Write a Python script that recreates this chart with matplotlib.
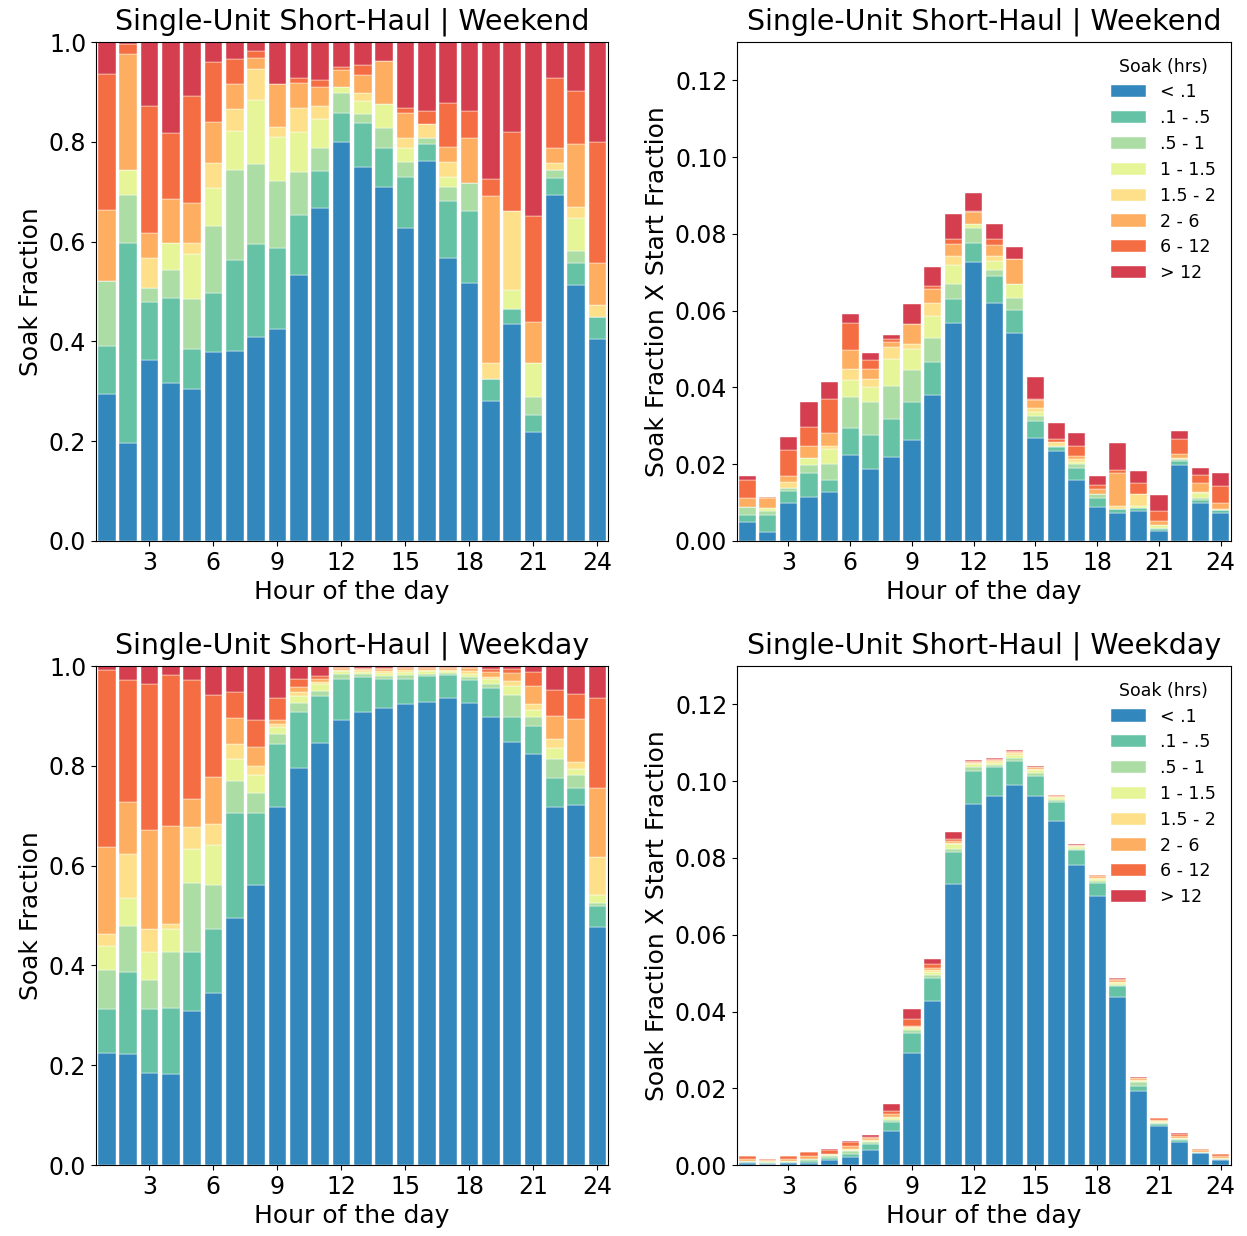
import matplotlib.pyplot as plt
import numpy as np

# Soak duration categories (bottom to top of each stack)
soak_labels = ['< .1', '.1 - .5', '.5 - 1', '1 - 1.5', '1.5 - 2', '2 - 6', '6 - 12', '> 12']
soak_colors = ['#3288bd', '#66c2a5', '#abdda4', '#e6f598', '#fee08b', '#fdae61', '#f46d43', '#d53e4f']

hours = list(range(1, 25))

# Weekend soak fractions per hour
we_lt01 = [.294, .196, .363, .317, .305, .379, .381, .409, .425, .533, .667, .800, .750, .710, .628, .762, .567, .517, .281, .434, .218, .693, .513, .405]
we_01_05 = [.097, .401, .115, .169, .080, .119, .183, .186, .162, .120, .074, .057, .087, .077, .102, .033, .114, .145, .044, .030, .035, .034, .045, .043]
we_05_1 = [.131, .096, .030, .057, .099, .134, .179, .160, .134, .086, .046, .041, .019, .041, .029, .012, .029, .056, 0, 0, .035, .016, .023, 0]
we_1_15 = [0, .050, 0, .054, .092, .076, .079, .129, .089, .081, .058, .012, .026, .048, .028, 0, .020, 0, 0, .039, .068, 0, .067, 0]
we_15_2 = [0, 0, .060, 0, .021, .049, .043, .061, .020, .047, .027, 0, .016, 0, .020, .028, .029, 0, .031, .159, 0, .014, .021, .024]
we_2_6 = [.141, .233, .050, .088, .080, .083, .050, .022, .085, .051, .038, .034, .035, .086, .050, 0, .030, .090, .335, 0, .082, .030, .126, .086]
we_6_12 = [.273, .021, .254, .133, .215, .119, .051, .016, 0, .010, .014, .005, .021, 0, .010, .027, .088, .054, .034, .158, .214, .141, .107, .242]
we_gt12 = [.064, .003, .128, .182, .108, .041, .034, .017, .085, .072, .076, .051, .046, .038, .133, .138, .123, .138, .275, .180, .348, .072, .098, .200]

# Weekday soak fractions per hour
wd_lt01 = [.225, .222, .185, .183, .309, .345, .496, .561, .718, .796, .846, .892, .908, .915, .925, .928, .936, .926, .897, .848, .823, .718, .721, .478]
wd_01_05 = [.087, .165, .128, .131, .118, .128, .210, .144, .126, .112, .094, .082, .071, .059, .050, .052, .046, .046, .060, .050, .057, .057, .035, .042]
wd_05_1 = [.079, .092, .058, .113, .138, .088, .064, .040, .020, .018, .010, .010, .005, .007, .008, .005, .004, .007, .008, .044, .017, .038, .026, .006]
wd_1_15 = [.048, .057, .056, .047, .068, .080, .043, .037, .014, .014, .014, .006, .005, .006, .006, .005, .004, .006, .009, .018, .015, .022, .011, .016]
wd_15_2 = [.025, .087, .047, .010, .045, .042, .030, .018, .005, .009, .005, .003, .003, .004, .004, .003, .003, .005, .005, .010, .012, .018, .014, .075]
wd_2_6 = [.173, .105, .197, .195, .055, .095, .052, .038, .009, .010, .006, .003, .003, .003, .003, .003, .003, .006, .010, .017, .036, .047, .087, .139]
wd_6_12 = [.356, .244, .293, .303, .239, .164, .054, .054, .044, .016, .005, .002, .002, .003, .002, .002, .002, .002, .006, .008, .029, .053, .051, .181]
wd_gt12 = [.007, .028, .036, .018, .028, .058, .051, .108, .064, .025, .020, .002, .003, .003, .002, .002, .002, .002, .005, .005, .011, .047, .055, .063]

# Start fraction per hour
we_start = [.0170, .0114, .0272, .0363, .0415, .0592, .0489, .0536, .0618, .0715, .0851, .0907, .0826, .0765, .0428, .0308, .0281, .0169, .0256, .0183, .0120, .0287, .0191, .0178]
wd_start = [.0024, .0017, .0024, .0035, .0041, .0063, .0078, .0158, .0407, .0536, .0867, .1055, .1060, .1082, .1040, .0965, .0836, .0756, .0487, .0229, .0123, .0084, .0043, .0030]

weekend = [we_lt01, we_01_05, we_05_1, we_1_15, we_15_2, we_2_6, we_6_12, we_gt12]
weekday = [wd_lt01, wd_01_05, wd_05_1, wd_1_15, wd_15_2, wd_2_6, wd_6_12, wd_gt12]

fig = plt.figure(figsize=(12.47, 12.36), dpi=100)
ax_tl = fig.add_axes([0.077, 0.5623, 0.4106, 0.4037])
ax_tr = fig.add_axes([0.591, 0.5623, 0.3962, 0.4037])
ax_bl = fig.add_axes([0.077, 0.0574, 0.4106, 0.4037])
ax_br = fig.add_axes([0.591, 0.0574, 0.3962, 0.4037])

panels = [(ax_tl, ax_tr, weekend, we_start, 'Weekend'),
          (ax_bl, ax_br, weekday, wd_start, 'Weekday')]

for ax_f, ax_s, fracs, start, day in panels:
    start = np.array(start)
    bottom_f = np.zeros(24)
    bottom_s = np.zeros(24)
    for k, vals in enumerate(fracs):
        vals = np.array(vals)
        ax_f.bar(hours, vals, bottom=bottom_f, width=0.83, color=soak_colors[k],
                 edgecolor='white', linewidth=0.3)
        ax_s.bar(hours, vals * start, bottom=bottom_s, width=0.83, color=soak_colors[k],
                 edgecolor='white', linewidth=0.3, label=soak_labels[k])
        bottom_f += vals
        bottom_s += vals * start

    title = f'Single-Unit Short-Haul | {day}'
    for ax in (ax_f, ax_s):
        ax.set_xlim(0.5, 24.5)
        ax.set_xticks([3, 6, 9, 12, 15, 18, 21, 24])
        ax.tick_params(labelsize=17)
        ax.set_xlabel('Hour of the day', fontsize=18)
        ax.set_title(title, fontsize=20.5, pad=9)

    ax_f.set_ylim(0, 1.0)
    ax_f.set_yticks(np.arange(0, 1.01, 0.2))
    ax_f.set_yticklabels([f'{v:.1f}' for v in np.arange(0, 1.01, 0.2)])
    ax_f.set_ylabel('Soak Fraction', fontsize=18)

    ax_s.set_ylim(0, 0.13)
    ax_s.set_yticks(np.arange(0, 0.121, 0.02))
    ax_s.set_yticklabels([f'{v:.2f}' for v in np.arange(0, 0.121, 0.02)])
    ax_s.set_ylabel('Soak Fraction X Start Fraction', fontsize=18)
    ax_s.legend(title='Soak (hrs)', loc='upper right', frameon=False,
                fontsize=12.5, title_fontsize=12.5, labelspacing=0.45)

plt.savefig('out.png', dpi=100)
